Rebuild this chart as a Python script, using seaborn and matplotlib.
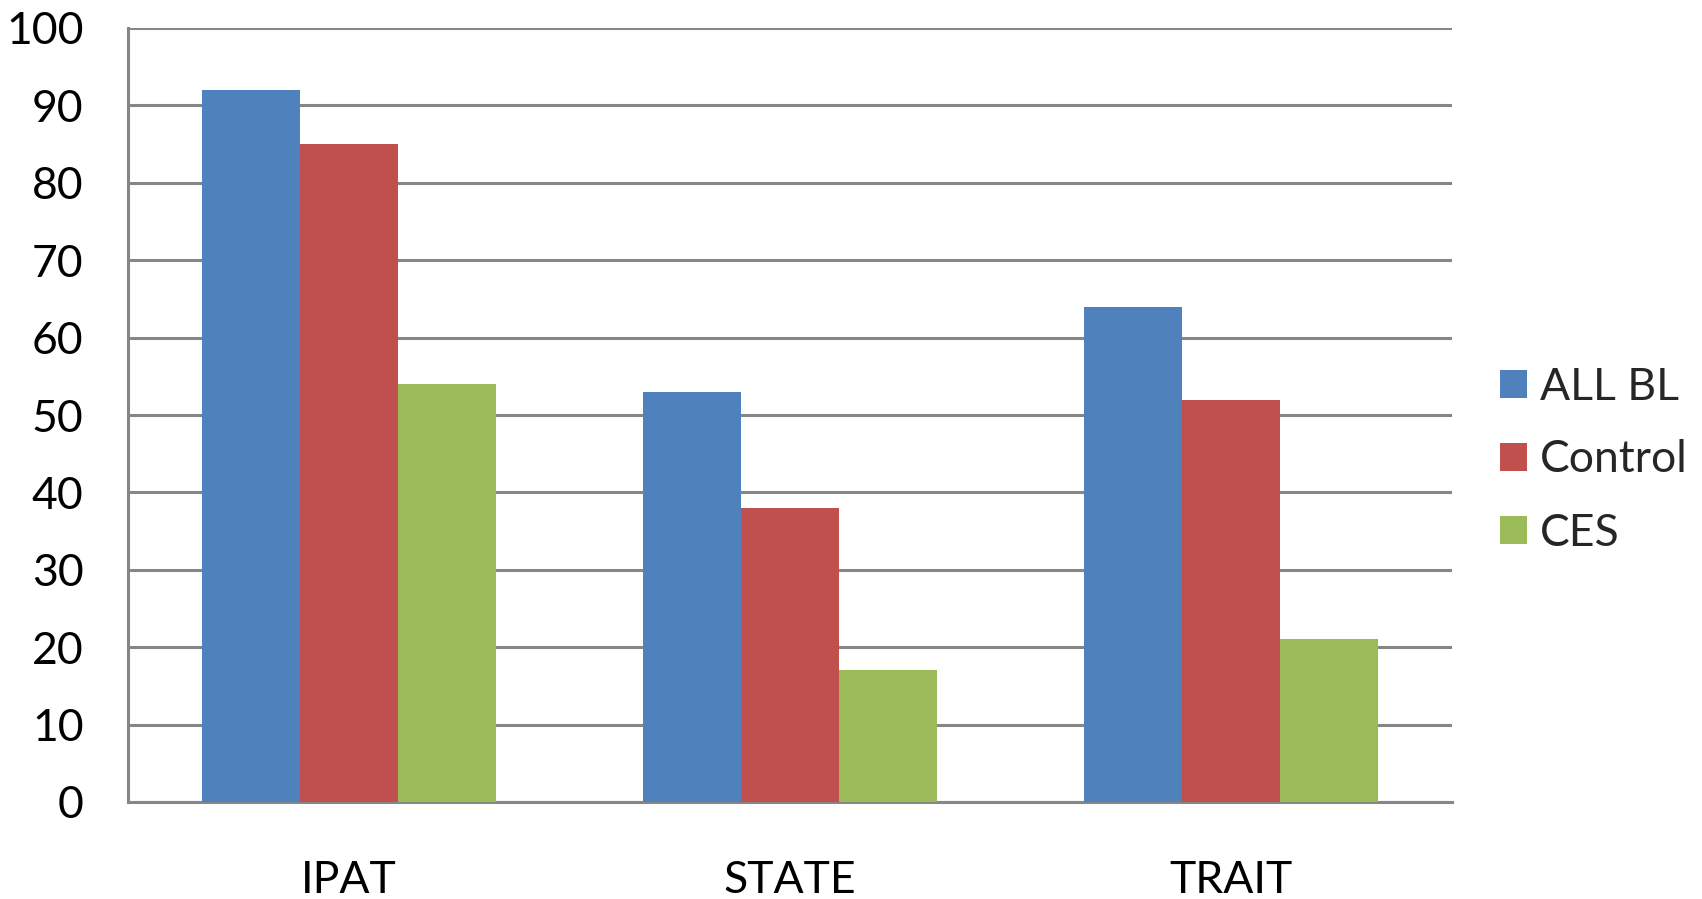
import matplotlib
matplotlib.use("Agg")
import matplotlib.pyplot as plt
import seaborn as sns
import pandas as pd

categories = ["IPAT", "STATE", "TRAIT"]
series_names = ["ALL BL", "Control", "CES"]
all_bl = [92, 53, 64]
control = [85, 38, 52]
ces = [54, 17, 21]
y_ticks = [0, 10, 20, 30, 40, 50, 60, 70, 80, 90, 100]

colors = ["#4F81BD", "#C0504D", "#9BBB59"]
grid_gray = "#868686"

df = pd.DataFrame({
    "category": categories * 3,
    "series": [s for s in series_names for _ in categories],
    "value": all_bl + control + ces,
})

sns.set_style("white")
plt.rcParams["font.family"] = ["Lato", "DejaVu Sans"]

fig = plt.figure(figsize=(17.02, 8.99), dpi=100)
ax = fig.add_axes([128 / 1702, 1 - 802 / 899, (1452 - 128) / 1702, (802 - 28) / 899])

sns.barplot(data=df, x="category", y="value", hue="series", order=categories,
            hue_order=series_names, palette=colors, saturation=1,
            width=2 / 3, gap=0, linewidth=0, ax=ax, zorder=3)

ax.set_xlim(-0.5, 2.5)
ax.set_ylim(0, 100)
ax.set_yticks(y_ticks)
ax.set_yticklabels([str(v) for v in y_ticks])
ax.set_xlabel("")
ax.set_ylabel("")

# horizontal gridlines
ax.yaxis.grid(True, color=grid_gray, linewidth=2.2, zorder=0)
ax.xaxis.grid(False)
ax.set_axisbelow(True)

for side in ["top", "right"]:
    ax.spines[side].set_visible(False)
for side in ["left", "bottom"]:
    ax.spines[side].set_color(grid_gray)
    ax.spines[side].set_linewidth(2.2)

# category separators below the axis
ax.set_xticks([-0.5, 0.5, 1.5, 2.5], minor=True)
ax.tick_params(axis="x", which="minor", length=11.5, width=2.2,
               color=grid_gray, direction="out")
ax.tick_params(axis="x", which="major", length=0, pad=42, labelsize=32,
               labelcolor="black")
ax.tick_params(axis="y", which="major", length=11, width=2.2,
               color=grid_gray, direction="out", pad=21, labelsize=32,
               labelcolor="black")

handles, labels = ax.get_legend_handles_labels()
ax.legend(handles, labels, loc="center left",
          bbox_to_anchor=(1500 / 1702, 1 - 460 / 899),
          bbox_transform=fig.transFigure, frameon=False, fontsize=32,
          handlelength=0.6, handleheight=0.6, handletextpad=0.3,
          labelspacing=0.72, borderpad=0, borderaxespad=0)

fig.savefig("out.png", dpi=100)
